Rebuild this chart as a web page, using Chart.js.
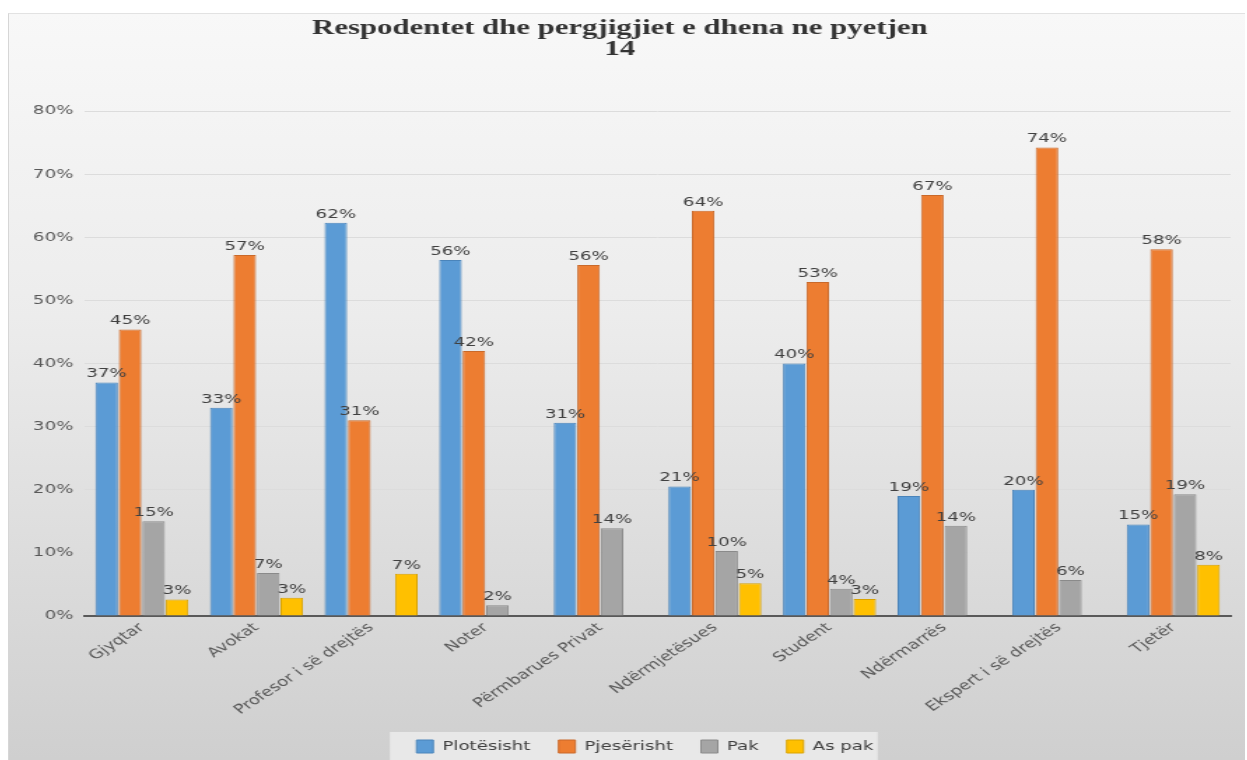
<!DOCTYPE html>
<html>
<head>
<meta charset="utf-8">
<script src="https://cdn.jsdelivr.net/npm/chart.js@4"></script>
<style>
  html, body { margin: 0; padding: 0; background: #fff; overflow: hidden; }
  #frame {
    position: absolute; left: 8px; top: 13px; width: 1237px; height: 760px;
    background: linear-gradient(#f8f8f8 0%, #ececec 40%, #cfcfcf 98%);
    border-left: 1px solid #d6d6d6; border-top: 1px solid #e2e2e2;
    box-sizing: border-box;
  }
  /* the reference picture is stretched sideways, so the canvas is too */
  canvas { position: absolute; left: 0; top: 0; width: 1237px; height: 760px; }
</style>
</head>
<body>
<div id="frame">
  <canvas id="chart" width="884" height="760" style="width:1237px;height:760px"></canvas>
</div>
<script>
// Categories and series (percent)
const categories = ['Gjyqtar', 'Avokat', 'Profesor i së drejtës', 'Noter', 'Përmbarues Privat',
    'Ndërmjetësues', 'Student', 'Ndërmarrës', 'Ekspert i së drejtës', 'Tjetër'];
const plotesisht = [37, 33, 62.3, 56.4, 30.6, 20.5, 40, 19, 20, 14.5];
const pjeserisht = [45.4, 57.2, 31, 42, 55.6, 64.2, 52.9, 66.7, 74.2, 58.1];
const pak = [15, 6.8, 0, 1.7, 13.9, 10.3, 4.3, 14.3, 5.7, 19.3];
const asPak = [2.6, 2.9, 6.7, 0, 0, 5.2, 2.7, 0, 0, 8.1];
const yTicks = [0, 10, 20, 30, 40, 50, 60, 70, 80];

const textColor = '#595959';
const font = 'DejaVu Sans';

// Value labels above each bar
const valueLabels = {
    id: 'valueLabels',
    afterDatasetsDraw(chart) {
        const ctx = chart.ctx;
        ctx.save();
        ctx.font = '13px "' + font + '"';
        ctx.fillStyle = '#404040';
        ctx.textAlign = 'center';
        ctx.textBaseline = 'bottom';
        chart.data.datasets.forEach((ds, i) => {
            chart.getDatasetMeta(i).data.forEach((bar, j) => {
                const v = ds.data[j];
                if (!v) return;
                ctx.fillText(Math.round(v) + '%', bar.x, bar.y - 2);
            });
        });
        ctx.restore();
    },
};

// Legend sits a little right of centre in the reference, on a lighter panel
const legendPanel = {
    id: 'legendPanel',
    afterLayout(chart) {
        if (!chart.legend) return;
        chart.legend.left += 18;
        chart.legend.right += 18;
    },
    beforeDraw(chart) {
        const boxes = chart.legend && chart.legend.legendHitBoxes;
        if (!boxes || !boxes.length) return;
        const first = boxes[0];
        const last = boxes[boxes.length - 1];
        const ctx = chart.ctx;
        ctx.save();
        ctx.fillStyle = 'rgba(238, 238, 238, 0.8)';
        ctx.fillRect(first.left - 19, first.top - 8, last.left + last.width + 22 - first.left, 40);
        ctx.restore();
    },
};

const bar = (label, data, bg, border) => ({
    label, data,
    backgroundColor: bg,
    borderColor: border,
    borderWidth: 1,
    categoryPercentage: 0.82,
    barPercentage: 0.96,
});

new Chart(document.getElementById('chart'), {
    type: 'bar',
    data: {
        labels: categories,
        datasets: [
            bar('Plotësisht', plotesisht, '#5b9bd5', '#4a84ba'),
            bar('Pjesërisht', pjeserisht, '#ed7d31', '#c9692a'),
            bar('Pak', pak, '#a5a5a5', '#8a8a8a'),
            bar('As pak', asPak, '#ffc000', '#d9a300'),
        ],
    },
    options: {
        responsive: false,
        animation: false,
        layout: { padding: { top: 0, left: 0, right: 11, bottom: 11 } },
        plugins: {
            title: {
                display: true,
                text: ['Respodentet dhe pergjigjiet e dhena ne pyetjen', '14'],
                color: '#333',
                font: { family: 'Liberation Serif', size: 22, weight: 'bold', lineHeight: '21px' },
                padding: { top: 4, bottom: 51 },
            },
            tooltip: { enabled: false },
            legend: {
                position: 'bottom',
                labels: {
                    color: '#404040',
                    font: { family: font, size: 13 },
                    boxWidth: 12,
                    boxHeight: 13,
                    padding: 20,
                },
            },
        },
        scales: {
            x: {
                grid: { display: false, drawTicks: false },
                border: { color: '#595959', width: 2 },
                afterFit: (scale) => { scale.height = 104; },
                ticks: {
                    color: textColor,
                    font: { family: font, size: 13 },
                    maxRotation: 42,
                    minRotation: 42,
                    padding: 4,
                },
            },
            y: {
                min: 0,
                max: 80,
                afterBuildTicks: (scale) => { scale.ticks = yTicks.map(v => ({ value: v })); },
                afterFit: (scale) => { scale.width = 54; },
                grid: { color: '#dcdcdc', lineWidth: 1, drawTicks: false },
                border: { display: false },
                ticks: {
                    color: textColor,
                    font: { family: font, size: 13 },
                    padding: 8,
                    callback: (v) => v + '%',
                },
            },
        },
    },
    plugins: [valueLabels, legendPanel],
});
</script>
</body>
</html>
